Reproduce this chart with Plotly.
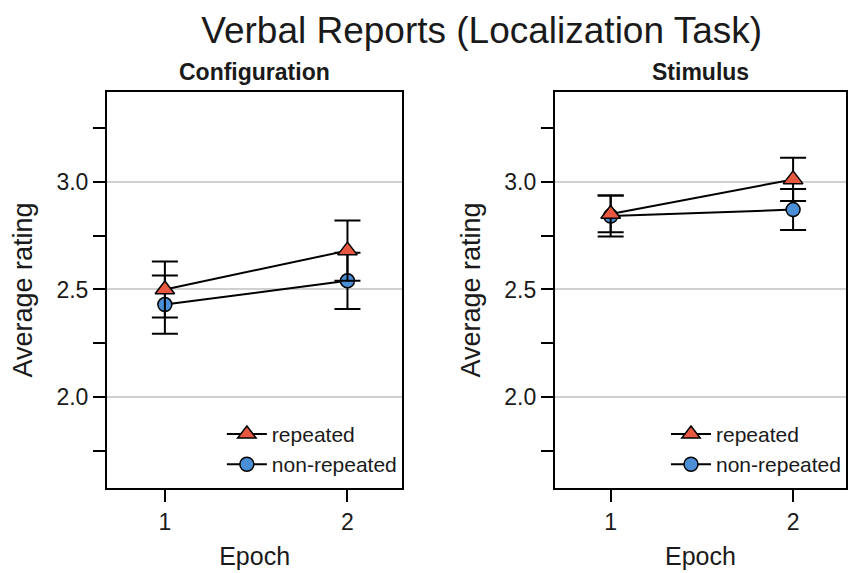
import plotly.graph_objects as go

epochs = [1, 2]
panels = ["Configuration", "Stimulus"]

# Configuration panel
cfg_repeated = [2.50, 2.68]
cfg_repeated_err = [0.13, 0.14]
cfg_nonrep = [2.43, 2.54]
cfg_nonrep_err = [0.135, 0.13]

# Stimulus panel
stim_repeated = [2.85, 3.01]
stim_repeated_err = [0.085, 0.10]
stim_nonrep = [2.84, 2.87]
stim_nonrep_err = [0.095, 0.095]

y_ticks = [2.0, 2.5, 3.0]
y_tick_labels = ["2.0", "2.5", "3.0"]
x_ticks = [1, 2]
x_tick_labels = ["1", "2"]

RED = "#E8573F"
BLUE = "#4A8FD6"
FONT = "Liberation Sans, Arial, sans-serif"
TXT = "#1a1a1a"

fig = go.Figure()

data = [
    (cfg_repeated, cfg_repeated_err, cfg_nonrep, cfg_nonrep_err, "x", "y", "legend"),
    (stim_repeated, stim_repeated_err, stim_nonrep, stim_nonrep_err, "x2", "y2", "legend2"),
]

for rep, rep_e, non, non_e, xa, ya, lg in data:
    fig.add_trace(go.Scatter(
        x=epochs, y=non, name="non-repeated", mode="lines+markers",
        xaxis=xa, yaxis=ya, legend=lg, legendrank=2,
        line=dict(color="black", width=2),
        marker=dict(symbol="circle", size=14, color=BLUE, line=dict(color="black", width=1.5)),
        error_y=dict(type="data", array=non_e, visible=True, color="black", thickness=2, width=13),
    ))
    fig.add_trace(go.Scatter(
        x=epochs, y=rep, name="repeated", mode="lines+markers",
        xaxis=xa, yaxis=ya, legend=lg, legendrank=1,
        line=dict(color="black", width=2),
        marker=dict(symbol="triangle-up", size=17, color=RED, line=dict(color="black", width=1.5)),
        error_y=dict(type="data", array=rep_e, visible=True, color="black", thickness=2, width=13),
    ))

common_x = dict(
    tickvals=x_ticks, ticktext=x_tick_labels,
    ticks="outside", ticklen=12, tickwidth=2, tickcolor="black",
    showline=True, linecolor="black", linewidth=2, mirror=True,
    showgrid=False, zeroline=False,
    tickfont=dict(size=23, color=TXT, family=FONT),
    title=dict(text="Epoch", font=dict(size=25, color=TXT, family=FONT), standoff=14),
)
common_y = dict(
    range=[1.58, 3.415], tickvals=y_ticks, ticktext=y_tick_labels,
    ticks="outside", ticklen=12, tickwidth=2, tickcolor="black",
    minor=dict(dtick=0.25, tick0=1.75, ticks="outside", ticklen=12, tickwidth=2,
               tickcolor="black", showgrid=False),
    showline=True, linecolor="black", linewidth=2, mirror=True,
    showgrid=True, gridcolor="#d0d0d0", gridwidth=1.5, zeroline=False,
    tickfont=dict(size=23, color=TXT, family=FONT),
    title=dict(text="Average rating", font=dict(size=27, color=TXT, family=FONT), standoff=16),
)

fig.update_layout(
    width=848, height=573,
    margin=dict(l=107, r=0, t=92, b=85),
    paper_bgcolor="white", plot_bgcolor="white",
    font=dict(family=FONT, color=TXT),
    title=dict(text="Verbal Reports (Localization Task)", x=0.568, xanchor="center",
               y=0.948, yanchor="middle", font=dict(size=37, color=TXT, family=FONT)),
    xaxis=dict(domain=[0, 0.3995], anchor="y", range=[0.683, 2.30], **common_x),
    yaxis=dict(domain=[0, 1], anchor="x", **common_y),
    xaxis2=dict(domain=[0.606, 1.0], anchor="y2", range=[0.694, 2.29], **common_x),
    yaxis2=dict(domain=[0, 1], anchor="x2", **common_y),
    legend=dict(x=0.399, y=0.008, xanchor="right", yanchor="bottom",
                bgcolor="rgba(0,0,0,0)", font=dict(size=21, color=TXT, family=FONT),
                itemwidth=40, tracegroupgap=0),
    legend2=dict(x=1.0, y=0.008, xanchor="right", yanchor="bottom",
                 bgcolor="rgba(0,0,0,0)", font=dict(size=21, color=TXT, family=FONT),
                 itemwidth=40, tracegroupgap=0),
    annotations=[
        dict(text="<b>" + panels[0] + "</b>", x=0.1998, y=1.0505, xref="paper", yref="paper",
             xanchor="center", yanchor="middle", showarrow=False,
             font=dict(size=23, color=TXT, family=FONT)),
        dict(text="<b>" + panels[1] + "</b>", x=0.803, y=1.0505, xref="paper", yref="paper",
             xanchor="center", yanchor="middle", showarrow=False,
             font=dict(size=23, color=TXT, family=FONT)),
    ],
)

fig.write_html("out.html", config={"displayModeBar": False},
               post_script="document.body.style.margin='0';document.body.style.overflow='hidden';")
